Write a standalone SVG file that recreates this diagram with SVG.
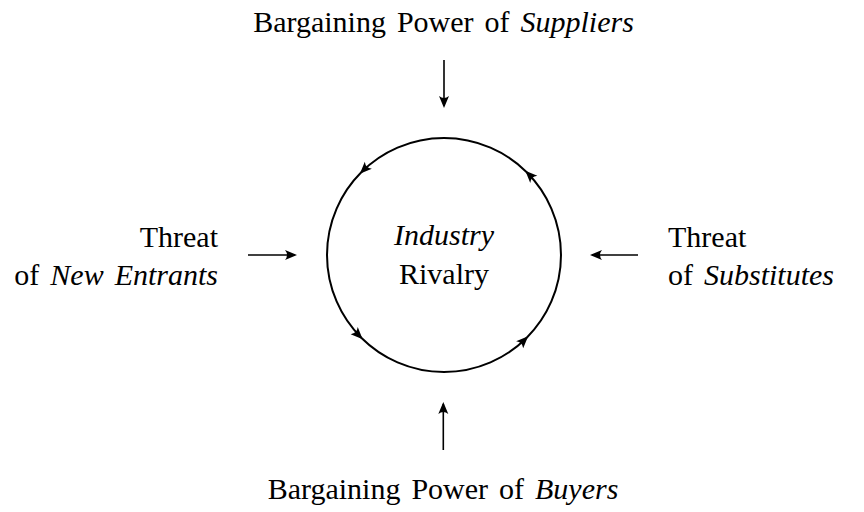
<svg xmlns="http://www.w3.org/2000/svg" width="864" height="512" viewBox="0 0 864 512">
<style>
text { font-family: "Liberation Serif", "Times New Roman", serif; font-size: 30px; fill: #000; word-spacing: 3.5px; }
.it { font-style: italic; }
.ln { stroke: #000; stroke-width: 1.6; fill: none; }
.ring { stroke: #000; stroke-width: 2; fill: none; }
</style>
<defs>
<marker id="ah" viewBox="-12 -7 16 14" refX="0" refY="0" markerWidth="16" markerHeight="14" markerUnits="userSpaceOnUse" orient="auto">
<path d="M2,0 L-10,-5 Q-6,0 -10,5 Z" fill="#000"/>
</marker>
</defs>
<rect width="864" height="512" fill="#fff"/>
<g id="rivalry">
<path class="ring" d="M526.73,337.73 A117,117 0 0 0 526.73,172.27" marker-end="url(#ah)"/>
<path class="ring" d="M526.73,172.27 A117,117 0 0 0 361.27,172.27" marker-end="url(#ah)"/>
<path class="ring" d="M361.27,172.27 A117,117 0 0 0 361.27,337.73" marker-end="url(#ah)"/>
<path class="ring" d="M361.27,337.73 A117,117 0 0 0 526.73,337.73" marker-end="url(#ah)"/>
<text x="444" y="245" text-anchor="middle" class="it">Industry</text>
<text x="444" y="284" text-anchor="middle">Rivalry</text>
</g>
<g id="suppliers">
<text x="443.5" y="32" text-anchor="middle">Bargaining Power of <tspan class="it">Suppliers</tspan></text>
</g>
<g id="buyers">
<text x="443" y="499" text-anchor="middle">Bargaining Power of <tspan class="it">Buyers</tspan></text>
</g>
<g id="entrants">
<text x="218" y="246.5" text-anchor="end">Threat</text>
<text x="218" y="285" text-anchor="end">of <tspan class="it">New Entrants</tspan></text>
</g>
<g id="substitutes">
<text x="668" y="246.5">Threat</text>
<text x="668" y="285">of <tspan class="it">Substitutes</tspan></text>
</g>
<g id="connectors">
<line class="ln" x1="444" y1="60" x2="444" y2="106" marker-end="url(#ah)"/>
<line class="ln" x1="443.3" y1="450" x2="443.3" y2="404" marker-end="url(#ah)"/>
<line class="ln" x1="248" y1="255" x2="295" y2="255" marker-end="url(#ah)"/>
<line class="ln" x1="638" y1="255" x2="592" y2="255" marker-end="url(#ah)"/>
</g>
</svg>
